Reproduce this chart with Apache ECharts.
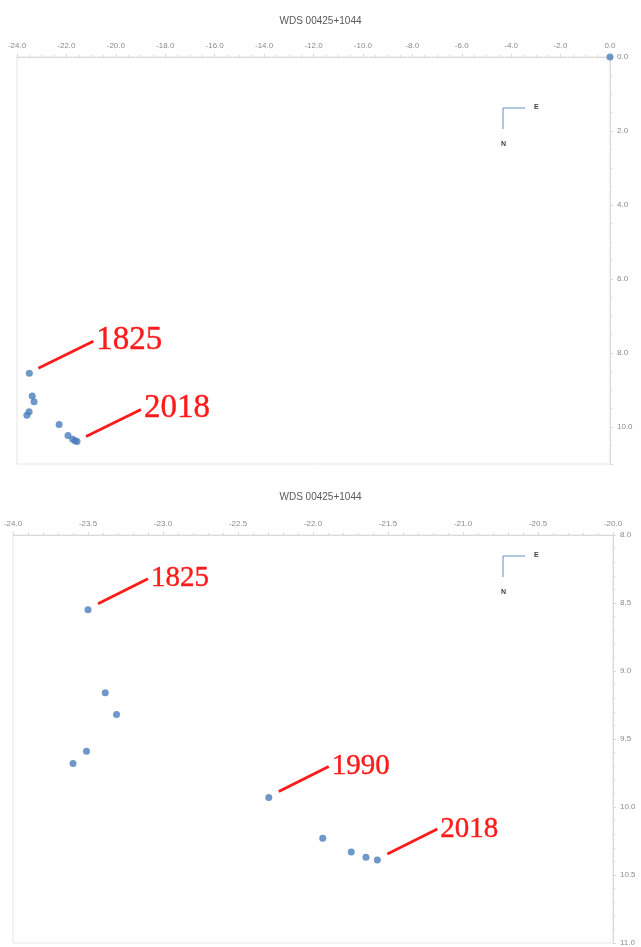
<!DOCTYPE html>
<html>
<head>
<meta charset="utf-8">
<script src="https://cdn.jsdelivr.net/npm/echarts@6/dist/echarts.min.js"></script>
<style>
  html, body { margin: 0; padding: 0; background: #ffffff; }
  #chart { width: 641px; height: 947px; }
</style>
</head>
<body>
<div id="chart"></div>
<script>
// Relative position of the companion (arcsec), primary at the origin
const chartTitle = 'WDS 00425+1044';
const primaryXY = [0.0, 0.0];
const obsX = [-23.50, -23.385, -23.31, -23.51, -23.60, -22.295, -21.935, -21.745, -21.647, -21.571];
const obsY = [8.55, 9.16, 9.32, 9.59, 9.68, 9.93, 10.23, 10.33, 10.37, 10.39];

// Epoch callouts: index into the observation arrays
const overviewEpochs = [{ idx: 0, text: '1825' }, { idx: 9, text: '2018' }];
const detailEpochs = [{ idx: 0, text: '1825' }, { idx: 5, text: '1990' }, { idx: 9, text: '2018' }];

// Axis ranges / tick steps
const overviewX = { min: -24, max: 0, step: 2 };
const overviewY = { min: 0, max: 11, step: 2 };
const detailX = { min: -24, max: -20, step: 0.5 };
const detailY = { min: 8, max: 11, step: 0.5 };

const pts = obsX.map((x, i) => [x, obsY[i]]);

const axisGray = '#d9d9d9';
const labelGray = '#8a8a8a';
const dotBlue = '#4a7ebb';
const red = '#ff1a1a';

function xAxisCfg(r, gridIndex, minorSplit) {
  return {
    type: 'value', gridIndex, position: 'top',
    min: r.min, max: r.max, interval: r.step,
    axisLine: { show: true, onZero: false, lineStyle: { color: axisGray, width: 1 } },
    axisTick: { show: true, inside: false, length: 3, lineStyle: { color: axisGray } },
    minorTick: { show: true, splitNumber: minorSplit, length: 2, lineStyle: { color: axisGray } },
    splitLine: { show: false },
    axisLabel: { fontSize: 8, color: labelGray, margin: 7, fontFamily: 'Liberation Sans',
                 formatter: v => v.toFixed(1) }
  };
}
function yAxisCfg(r, gridIndex, minorSplit, showMax) {
  return {
    type: 'value', gridIndex, position: 'right', inverse: true,
    min: r.min, max: r.max, interval: r.step,
    axisLine: { show: true, onZero: false, lineStyle: { color: axisGray, width: 1 } },
    axisTick: { show: true, inside: false, length: 3, lineStyle: { color: axisGray } },
    minorTick: { show: true, splitNumber: minorSplit, length: 2, lineStyle: { color: axisGray } },
    splitLine: { show: false },
    axisLabel: { fontSize: 8, color: labelGray, margin: 7, fontFamily: 'Liberation Sans',
                 showMaxLabel: showMax, formatter: v => v.toFixed(1) }
  };
}

const chart = echarts.init(document.getElementById('chart'), null, { renderer: 'canvas' });

chart.setOption({
  animation: false,
  backgroundColor: '#ffffff',
  title: [
    { text: chartTitle, left: 'center', top: 11,
      textStyle: { fontSize: 10, fontWeight: 'normal', color: '#595959', fontFamily: 'Liberation Sans' } },
    { text: chartTitle, left: 'center', top: 487,
      textStyle: { fontSize: 10, fontWeight: 'normal', color: '#595959', fontFamily: 'Liberation Sans' } }
  ],
  grid: [
    { left: 17, right: 31, top: 57, height: 407, show: true, borderColor: '#e6e6e6', borderWidth: 1 },
    { left: 13, right: 28, top: 535, height: 411, show: true, borderColor: '#e6e6e6', borderWidth: 1 }
  ],
  xAxis: [xAxisCfg(overviewX, 0, 4), xAxisCfg(detailX, 1, 5)],
  yAxis: [yAxisCfg(overviewY, 0, 4, false), yAxisCfg(detailY, 1, 5, true)],
  series: [
    { type: 'scatter', xAxisIndex: 0, yAxisIndex: 0, symbolSize: 7,
      itemStyle: { color: dotBlue }, data: [primaryXY].concat(pts) },
    { type: 'scatter', xAxisIndex: 1, yAxisIndex: 1, symbolSize: 7,
      itemStyle: { color: dotBlue }, data: pts }
  ]
});

// Leader line + year text attached to a plotted observation
function callouts(gridIndex, list, s) {
  const out = [];
  list.forEach(e => {
    const p = chart.convertToPixel({ gridIndex }, [obsX[e.idx], obsY[e.idx]]);
    out.push({
      type: 'line', silent: true,
      shape: { x1: p[0] + s.l0[0], y1: p[1] + s.l0[1], x2: p[0] + s.l1[0], y2: p[1] + s.l1[1] },
      style: { stroke: red, lineWidth: 2.8 }
    });
    out.push({
      type: 'text', silent: true,
      x: p[0] + s.tx, y: p[1] + s.ty,
      style: { text: e.text, fill: red, stroke: red, lineWidth: 0.4, font: s.font,
               textAlign: 'left', textVerticalAlign: 'middle' }
    });
  });
  return out;
}

// Small E / N orientation marker
function compass(x, y) {
  return [
    { type: 'line', silent: true, shape: { x1: x, y1: y, x2: x + 22, y2: y },
      style: { stroke: '#7da2cc', lineWidth: 1.2 } },
    { type: 'line', silent: true, shape: { x1: x, y1: y, x2: x, y2: y + 21 },
      style: { stroke: '#7da2cc', lineWidth: 1.2 } },
    { type: 'text', silent: true, x: x + 31, y: y - 1,
      style: { text: 'E', fill: '#404040', font: 'bold 7px Liberation Sans', textVerticalAlign: 'middle' } },
    { type: 'text', silent: true, x: x - 2, y: y + 36,
      style: { text: 'N', fill: '#404040', font: 'bold 7px Liberation Sans', textVerticalAlign: 'middle' } }
  ];
}

const g = []
  .concat(callouts(0, overviewEpochs, { l0: [9, -5], l1: [64, -32], tx: 67, ty: -33, font: '33px Liberation Serif' }))
  .concat(callouts(1, detailEpochs, { l0: [10, -6], l1: [60, -31], tx: 63, ty: -31, font: '29px Liberation Serif' }))
  .concat(compass(503, 108))
  .concat(compass(503, 556));

chart.setOption({ graphic: g });
</script>
</body>
</html>
